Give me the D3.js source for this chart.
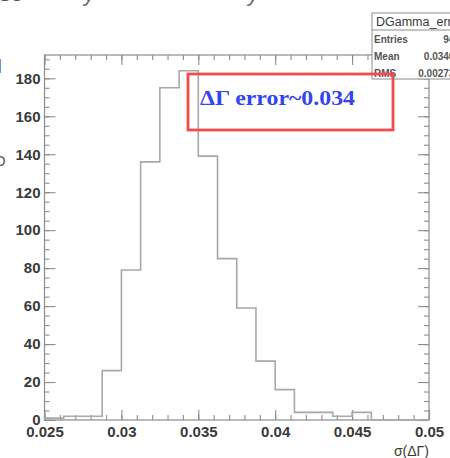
<!DOCTYPE html>
<html>
<head>
<meta charset="utf-8">
<script src="https://cdn.jsdelivr.net/npm/d3@7"></script>
<style>
body { margin: 0; background: #fff; }
svg { display: block; font-family: 'Liberation Sans', Arial, sans-serif; }
</style>
</head>
<body>
<svg id="chart" width="450" height="458"></svg>
<script>
// histogram data
const binLow = 0.025
const binWidth = 0.00125
const counts = [1, 2, 2, 26, 79, 136, 175, 184, 139, 85, 59, 31, 16, 4, 4, 2, 4, 0, 0, 0]

// axis ticks
const xTicks = [0.025, 0.03, 0.035, 0.04, 0.045, 0.05]
const xTickLabels = ['0.025', '0.03', '0.035', '0.04', '0.045', '0.05']
const yTicks = [0, 20, 40, 60, 80, 100, 120, 140, 160, 180]

// stats box
const statsTitle = 'DGamma_err'
const statsLabels = ['Entries', 'Mean', 'RMS']
const statsValues = ['947', '0.03461', '0.002735']

const note = 'ΔΓ error~0.034'
const xTitle = 'σ(ΔΓ)'

const svg = d3.select('#chart')

// frame position
const frame = { left: 44.5, right: 429, top: 55, bottom: 420 }
const axisColor = '#8c8c8c'
const labelColor = '#3a3a3a'

const xMax = binLow + binWidth * counts.length
const x = d3.scaleLinear().domain([binLow, xMax]).range([frame.left, frame.right])
const y = d3.scaleLinear().domain([0, d3.max(counts) * 1.045]).range([frame.bottom, frame.top])

const xMinor = d3.range(0, 26).map(i => binLow + i * 0.001)
const yMinor = d3.range(0, 39).map(i => i * 5)

// cut-off slide text round the edges
svg.append('text').attr('x', -2).attr('y', 1).attr('font-size', 20).attr('fill', '#555').text('S3')
svg.append('text').attr('x', 84).attr('y', 1).attr('font-size', 22).attr('font-style', 'italic').attr('fill', '#666').text('y')
svg.append('text').attr('x', 248).attr('y', 1).attr('font-size', 22).attr('font-style', 'italic').attr('fill', '#666').text('y')
svg.append('text').attr('x', -6).attr('y', 166).attr('font-size', 15).attr('fill', '#555').text('O')
svg.append('text').attr('x', -2).attr('y', 70).attr('font-size', 15).attr('fill', '#555').text('|')

// frame
svg.append('rect')
	.attr('x', frame.left).attr('y', frame.top)
	.attr('width', frame.right - frame.left).attr('height', frame.bottom - frame.top)
	.attr('fill', 'none')
	.attr('stroke', axisColor)
	.attr('stroke-width', 1.2)

const styleAxis = g => {
	g.select('.domain').remove()
	g.selectAll('line').attr('stroke', axisColor).attr('stroke-width', 1.1)
	g.selectAll('text')
		.attr('fill', labelColor)
		.attr('font-size', 15)
		.attr('font-weight', 'bold')
}

// bottom axis, ticks pointing inward
svg.append('g')
	.attr('transform', `translate(0, ${frame.bottom})`)
	.call(d3.axisBottom(x).tickValues(xMinor).tickSize(-5).tickFormat(''))
	.call(styleAxis)

svg.append('g')
	.attr('transform', `translate(0, ${frame.bottom})`)
	.call(d3.axisBottom(x)
		.tickValues(xTicks)
		.tickSize(-10)
		.tickPadding(6)
		.tickFormat((d, i) => xTickLabels[i])
	)
	.call(styleAxis)

// top axis, mirrored ticks
svg.append('g')
	.attr('transform', `translate(0, ${frame.top})`)
	.call(d3.axisTop(x).tickValues(xMinor).tickSize(-5).tickFormat(''))
	.call(styleAxis)
svg.append('g')
	.attr('transform', `translate(0, ${frame.top})`)
	.call(d3.axisTop(x).tickValues(xTicks).tickSize(-10).tickFormat(''))
	.call(styleAxis)

// left axis
svg.append('g')
	.attr('transform', `translate(${frame.left}, 0)`)
	.call(d3.axisLeft(y).tickValues(yMinor).tickSize(-5).tickFormat(''))
	.call(styleAxis)
svg.append('g')
	.attr('transform', `translate(${frame.left}, 0)`)
	.call(d3.axisLeft(y).tickValues(yTicks).tickSize(-11).tickPadding(4))
	.call(styleAxis)

// right axis
svg.append('g')
	.attr('transform', `translate(${frame.right}, 0)`)
	.call(d3.axisRight(y).tickValues(yMinor).tickSize(-5).tickFormat(''))
	.call(styleAxis)
svg.append('g')
	.attr('transform', `translate(${frame.right}, 0)`)
	.call(d3.axisRight(y).tickValues(yTicks).tickSize(-11).tickFormat(''))
	.call(styleAxis)

// histogram outline
const points = [{ e: binLow, v: 0 }]
counts.forEach((c, i) => points.push({ e: binLow + i * binWidth, v: c }))
points.push({ e: xMax, v: counts[counts.length - 1] })
points.push({ e: xMax, v: 0 })

const line = d3.line()
	.x(d => x(d.e))
	.y(d => y(d.v))
	.curve(d3.curveStepAfter)

svg.append('path')
	.datum(points)
	.attr('d', line)
	.attr('fill', 'none')
	.attr('stroke', '#a8a8a8')
	.attr('stroke-width', 1.6)

// x axis title
svg.append('text')
	.attr('x', frame.right)
	.attr('y', 456)
	.attr('text-anchor', 'end')
	.attr('font-size', 14)
	.attr('fill', labelColor)
	.text(xTitle)

// stats box
const stats = svg.append('g')
stats.append('rect')
	.attr('x', 372).attr('y', 13)
	.attr('width', 110).attr('height', 66)
	.attr('fill', '#fff')
	.attr('stroke', axisColor)
stats.append('line')
	.attr('x1', 372).attr('x2', 482)
	.attr('y1', 30).attr('y2', 30)
	.attr('stroke', axisColor)
stats.append('text')
	.attr('x', 376).attr('y', 26)
	.attr('font-size', 12.5)
	.attr('fill', labelColor)
	.text(statsTitle)
statsLabels.forEach((s, i) => {
	stats.append('text')
		.attr('x', 374).attr('y', 43 + i * 17)
		.attr('font-size', 10)
		.attr('font-weight', 'bold')
		.attr('fill', '#555')
		.text(s)
	stats.append('text')
		.attr('x', 460).attr('y', 43 + i * 17)
		.attr('text-anchor', 'end')
		.attr('font-size', 10)
		.attr('font-weight', 'bold')
		.attr('fill', '#555')
		.text(statsValues[i])
})

// red annotation box
svg.append('rect')
	.attr('x', 188).attr('y', 74)
	.attr('width', 205).attr('height', 56)
	.attr('fill', 'none')
	.attr('stroke', '#f44c4c')
	.attr('stroke-width', 2.8)

svg.append('text')
	.attr('x', 200).attr('y', 105)
	.attr('font-family', "'Liberation Serif', 'Times New Roman', serif")
	.attr('font-weight', 'bold')
	.attr('font-size', 21)
	.attr('textLength', 155)
	.attr('lengthAdjust', 'spacingAndGlyphs')
	.attr('fill', '#3346ee')
	.text(note)
</script>
</body>
</html>
